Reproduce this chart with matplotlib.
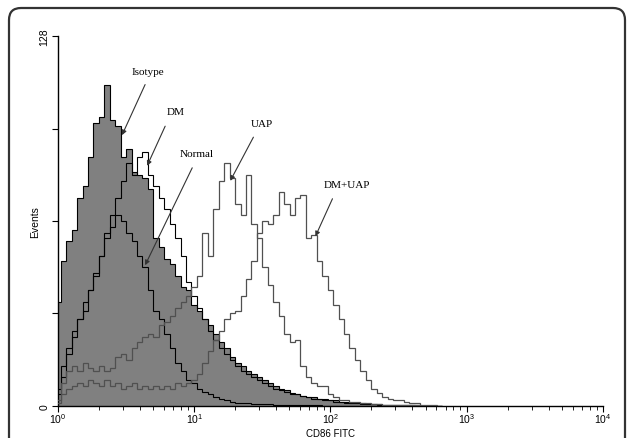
import matplotlib
matplotlib.use("Agg")
import matplotlib.pyplot as plt
import numpy as np
from matplotlib.patches import FancyBboxPatch
from matplotlib.transforms import IdentityTransform

plt.rcParams["font.family"] = ["Liberation Sans", "DejaVu Sans"]

# histogram channels, log10(CD86 FITC) from 10^0 upward in 0.04-decade bins
log_step = 0.04

isotype = [
    36, 50, 57, 61, 72, 76, 86, 98, 100, 111,
    99, 97, 86, 89, 81, 80, 79, 75, 58, 55,
    51, 49, 45, 41, 40, 35, 33, 30, 28, 25,
    22, 20, 17, 15, 14, 12, 11, 10, 9, 8,
    7, 6, 5.5, 4.5, 4, 3.5, 3, 3, 2.5, 2.5,
    2, 2, 1.5, 1.5, 1.2, 1, 1, 0.8, 0.6, 0.6,
    0.5, 0.4, 0.4, 0.3, 0.3, 0.2, 0.2, 0.1, 0.1, 0, 0,
]
dm = [
    4, 10, 18, 24, 30, 33, 40, 46, 52, 60,
    66, 72, 78, 84, 80, 86, 88, 80, 76, 72,
    68, 63, 58, 52, 43, 38, 34, 30, 26, 23,
    20, 18, 16, 14, 12, 11, 10, 9, 8, 7,
    6, 5.5, 5, 4, 4, 3.5, 3, 2.5, 2.5, 2,
    2, 1.5, 1.5, 1.2, 1, 1, 0.8, 0.8, 0.6, 0.5,
    0.5, 0.4, 0.3, 0.3, 0.2, 0.2, 0.1, 0.1, 0, 0, 0,
]
normal = [
    6, 14, 20, 26, 30, 36, 40, 45, 52, 58,
    62, 66, 64, 60, 57, 52, 48, 40, 33, 30,
    25, 20, 15, 12, 9, 8, 6, 5, 4, 3,
    2.5, 2, 1.5, 1.2, 1, 1, 0.8, 0.8, 0.6, 0.6,
    0.5, 0.5, 0.4, 0.4, 0.3, 0.3, 0.2, 0.2, 0.2, 0.1,
    0.1, 0.1, 0.1, 0, 0, 0, 0, 0, 0, 0,
    0, 0, 0, 0, 0, 0, 0, 0, 0, 0, 0,
]
uap = [
    2, 8, 12, 14, 12, 15, 13, 12, 14, 12,
    13, 17, 18, 16, 20, 22, 24, 25, 24, 28,
    29, 31, 34, 36, 38, 41, 45, 60, 52, 68,
    78, 84, 79, 70, 66, 80, 63, 58, 48, 42,
    36, 31, 25, 22, 23, 14, 10, 8, 7, 7,
    4, 3, 2, 2, 1.5, 1.5, 1, 1, 0.8, 0.6,
    0.5, 0.5, 0.4, 0.3, 0.3, 0.2, 0.2, 0.1, 0.1, 0, 0,
]
dm_uap = [
    1, 4, 6, 7, 8, 7, 9, 8, 7, 9,
    7, 8, 6, 7, 8, 6, 7, 6, 7, 6,
    7, 6, 8, 7, 8, 9, 11, 15, 19, 23,
    26, 30, 32, 33, 38, 44, 50, 60, 64, 63,
    66, 74, 70, 66, 72, 73, 58, 59, 50, 45,
    40, 35, 30, 25, 20, 16, 12, 9, 6, 4.5,
    3, 2.5, 2, 2, 1.5, 1, 1, 0.5, 0.5, 0.3, 0,
]

n_bins = len(isotype)
edges = 10 ** ((np.arange(n_bins + 1) - 0.5) * log_step)

fig = plt.figure(figsize=(6.27, 4.39), dpi=100)
ax = fig.add_axes([0.0925, 0.0729, 0.869, 0.8428])

ax.stairs(isotype, edges, fill=True, color="#808080", zorder=1)
ax.stairs(isotype, edges, color="black", lw=0.8, zorder=2)
ax.stairs(dm, edges, color="black", lw=0.8, zorder=3)
ax.stairs(normal, edges, color="black", lw=0.8, zorder=3)
ax.stairs(uap, edges, color="#505050", lw=0.9, zorder=3)
ax.stairs(dm_uap, edges, color="#505050", lw=0.9, zorder=3)

ax.set_xscale("log")
ax.set_xlim(1, 1e4)
ax.set_ylim(0, 128)

for side in ("top", "right"):
    ax.spines[side].set_visible(False)
ax.spines["left"].set_linewidth(1.0)
ax.spines["bottom"].set_linewidth(1.0)

ax.set_yticks([0, 32, 64, 96, 128])
ax.set_yticklabels(["0", "", "", "", "128"], rotation=90, va="center", fontsize=7.5)
ax.tick_params(axis="y", length=4, width=0.8, pad=2)
ax.tick_params(axis="x", which="major", length=4, width=0.8, labelsize=7.5, pad=0)
ax.tick_params(axis="x", which="minor", length=3, width=0.6)

ax.set_xlabel("CD86 FITC", fontsize=7)
ax.xaxis.set_label_coords(0.5, -0.06)
ax.set_ylabel("Events", fontsize=7.5, labelpad=0)

# labels and arrows (data coordinates)
serif = ["Liberation Serif", "DejaVu Serif"]
notes = [
    ("Isotype", (4.59, 115.7), (4.36, 111.2), (2.95, 93.7)),
    ("DM", (7.37, 101.9), (6.12, 96.8), (4.51, 83.1)),
    ("Normal", (10.5, 87.5), (9.67, 82.4), (4.36, 48.7)),
    ("UAP", (31.6, 97.8), (27.2, 93.0), (18.4, 77.9)),
    ("DM+UAP", (133, 76.5), (103.5, 71.7), (77.6, 58.7)),
]
for label, txt_pos, start, tip in notes:
    ax.text(txt_pos[0], txt_pos[1], label, family=serif, fontsize=8,
            ha="center", va="center", zorder=5)
    ax.annotate("", xy=tip, xytext=start,
                arrowprops=dict(arrowstyle="-|>", color="#333333", lw=0.8,
                                mutation_scale=7, shrinkA=0, shrinkB=0),
                zorder=5)

# rounded frame around the panel
frame = FancyBboxPatch((9, -40), 616, 470, boxstyle="round,pad=0,rounding_size=12",
                       transform=IdentityTransform(), fill=False,
                       edgecolor="#333333", lw=1.6)
fig.patches.append(frame)

fig.savefig("out.png", dpi=100)
